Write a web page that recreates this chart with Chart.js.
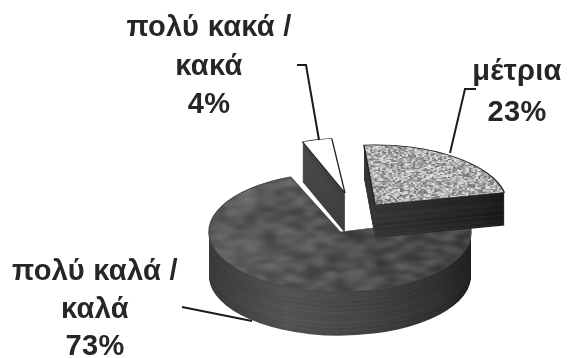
<!DOCTYPE html>
<html>
<head>
<meta charset="utf-8">
<script src="https://cdn.jsdelivr.net/npm/chart.js@4"></script>
<style>
  html, body { margin: 0; background: #fff; }
  canvas { display: block; filter: blur(0.6px); }
</style>
</head>
<body>
<canvas id="pie-chart" width="570" height="358"></canvas>
<script>
// slices go clockwise from startAngle
const categories = ['πολύ καλά / καλά', 'πολύ κακά / κακά', 'μέτρια'];
const percents = [73, 4, 23];
const startAngle = 75;

// fake 3D look: squashed pie, every slice has its own pull-out and thickness
const pieCenter = { x: 340, y: 232 };
const pieRadius = 131;
const squash = 0.455;
const pullX = [0, 5, 35];
const pullY = [0, -39, -27];
const sliceScale = [1, 0.92, 1.01];
const sliceTurn = [0, 1.5, 3];
const depths = [44, 40, 33];
const sideShade = [1, 0.85, 0.72];

const labelLines = [
  { x: 209, y: 36, lines: ['πολύ κακά /', 'κακά', '4%'], gap: 38.5 },
  { x: 517, y: 80, lines: ['μέτρια', '23%'], gap: 41 },
  { x: 95, y: 280, lines: ['πολύ καλά /', 'καλά', '73%'], gap: 37.5 }
];
const leaders = [
  [[297, 65], [306, 65], [319, 140]],
  [[476, 89], [465, 89], [450, 153]],
  [[182, 307], [252, 321]]
];

function noise(i, j) {
  const v = Math.sin(i * 12.9898 + j * 78.233) * 43758.5453;
  return v - Math.floor(v);
}

// tile is big enough that its seam stays outside the pie
function makeTexture(base, spread, blockW, blockH, soft, tilt) {
  const size = 480;
  const raw = document.createElement('canvas');
  raw.width = size;
  raw.height = size;
  const g = raw.getContext('2d');
  for (let y = 0; y < size; y += blockH) {
    for (let x = 0; x < size; x += blockW) {
      const v = Math.round(base + (noise(x, y) - 0.5) * spread + tilt * (x - 285) / 131);
      g.fillStyle = 'rgb(' + v + ',' + v + ',' + v + ')';
      g.fillRect(x, y, blockW, blockH);
    }
  }
  const c = document.createElement('canvas');
  c.width = size;
  c.height = size;
  const g2 = c.getContext('2d');
  g2.fillStyle = 'rgb(' + base + ',' + base + ',' + base + ')';
  g2.fillRect(0, 0, size, size);
  g2.filter = 'blur(' + soft + 'px)';
  g2.drawImage(raw, 0, 0);
  return g2.createPattern(c, 'repeat');
}

const ctx0 = document.getElementById('pie-chart').getContext('2d');
const topFills = [makeTexture(80, 60, 10, 8, 4, -14), '#ffffff', makeTexture(172, 125, 2, 3, 0.5, 0)];

function sideFill(ctx, cx, i, layer) {
  const g = ctx.createLinearGradient(cx - pieRadius, 0, cx + pieRadius, 0);
  const lift = (noise(i + 1, layer) - 0.5) * 12;
  const s = (v) => { const n = Math.round(v * sideShade[i] + lift); return 'rgb(' + n + ',' + n + ',' + n + ')'; };
  g.addColorStop(0, s(58));
  g.addColorStop(0.3, s(84));
  g.addColorStop(0.6, s(68));
  g.addColorStop(0.88, s(48));
  g.addColorStop(1, s(32));
  return g;
}

const solidPie = {
  id: 'solidPie',
  beforeDatasetsDraw(chart) {
    const ctx = chart.ctx;
    const arcs = chart.getDatasetMeta(0).data;
    arcs.forEach((arc, i) => {
      const placeSlice = (down) => {
        ctx.translate(pieCenter.x + pullX[i], pieCenter.y + pullY[i] + down);
        ctx.scale(sliceScale[i], sliceScale[i] * squash);
        ctx.rotate(sliceTurn[i] * Math.PI / 180);
        ctx.translate(-arc.x, -arc.y);
      };
      const realOptions = arc.options;
      for (let d = depths[i]; d > 0; d--) {
        ctx.save();
        placeSlice(d);
        const o = Object.create(realOptions);
        o.backgroundColor = sideFill(ctx, arc.x, i, d);
        o.borderWidth = 0;
        arc.options = o;
        arc.draw(ctx);
        ctx.restore();
      }
      ctx.save();
      placeSlice(0);
      const o = Object.create(realOptions);
      o.backgroundColor = topFills[i];
      if (i === 0) o.borderColor = '#4a4a4a';
      arc.options = o;
      arc.draw(ctx);
      arc.options = realOptions;
      ctx.restore();
    });
    return false;
  },
  afterDraw(chart) {
    const ctx = chart.ctx;
    ctx.save();
    ctx.strokeStyle = '#1c1c1c';
    ctx.lineWidth = 2;
    leaders.forEach((pts) => {
      ctx.beginPath();
      pts.forEach((p, k) => (k ? ctx.lineTo(p[0], p[1]) : ctx.moveTo(p[0], p[1])));
      ctx.stroke();
    });
    ctx.fillStyle = '#262626';
    ctx.font = 'bold 29px "Liberation Sans", Arial, sans-serif';
    ctx.letterSpacing = '0.3px';
    ctx.textAlign = 'center';
    ctx.textBaseline = 'alphabetic';
    labelLines.forEach((l) => {
      l.lines.forEach((t, k) => ctx.fillText(t, l.x, l.y + k * l.gap));
    });
    ctx.restore();
  }
};

let pieChart = new Chart(ctx0, {
  type: 'pie',
  data: {
    labels: categories,
    datasets: [{
      data: percents,
      backgroundColor: '#555555',
      borderColor: '#222222',
      borderWidth: 1.5
    }]
  },
  options: {
    responsive: false,
    animation: false,
    events: [],
    radius: pieRadius,
    rotation: startAngle,
    plugins: { legend: { display: false }, tooltip: { enabled: false } }
  },
  plugins: [solidPie]
});
</script>
</body>
</html>
